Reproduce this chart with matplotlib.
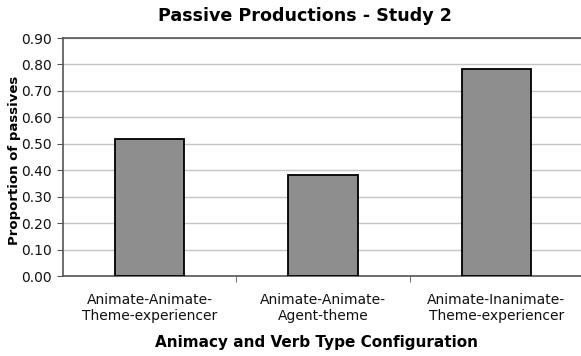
import numpy as np
import matplotlib.pyplot as plt
from matplotlib.ticker import FixedLocator, NullFormatter

# Passive productions by animacy / verb type
categories = ["Animate-Animate-\nTheme-experiencer",
              "Animate-Animate-\nAgent-theme",
              "Animate-Inanimate-\nTheme-experiencer"]
proportions = [0.518, 0.382, 0.783]
yticks = [0.0, 0.1, 0.2, 0.3, 0.4, 0.5, 0.6, 0.7, 0.8, 0.9]

plt.rcParams['font.family'] = ['DejaVu Sans']

fig = plt.figure(figsize=(5.81, 3.56), dpi=100)
ax = fig.add_axes([63 / 581, (356 - 276) / 356, (583 - 63) / 581, (276 - 38) / 356])

x = np.arange(len(categories))
ax.bar(x, proportions, width=0.4, color="#8e8e8e", edgecolor="black",
       linewidth=1.3, zorder=3)

ax.set_xlim(-0.5, len(categories) - 0.5)
ax.set_ylim(0, 0.9)
ax.set_yticks(yticks)
ax.set_yticklabels(["%.2f" % v for v in yticks], fontsize=10, color="#111111")
ax.yaxis.grid(True, color="#c4c4c4", linewidth=1, zorder=0)

ax.set_xticks(x)
ax.set_xticklabels(categories, fontsize=10, linespacing=1.25, color="#111111")
ax.tick_params(axis="x", length=0, pad=12)
ax.xaxis.set_minor_locator(FixedLocator([0.5, 1.5]))
ax.xaxis.set_minor_formatter(NullFormatter())
ax.tick_params(axis="x", which="minor", length=4, color="#555555")
ax.tick_params(axis="y", length=4, color="#555555", pad=4)

for side in ["left", "bottom", "top"]:
    ax.spines[side].set_color("#555555")
    ax.spines[side].set_linewidth(1.2)
ax.spines["right"].set_visible(False)

fig.text(15 / 581, 1 - 160 / 356, "Proportion of passives", rotation=90,
         fontsize=9.5, fontweight="bold", ha="center", va="center")
fig.text(316 / 581, 1 - 342 / 356, "Animacy and Verb Type Configuration",
         fontsize=11, fontweight="bold", ha="center", va="center")
fig.text(305 / 581, 1 - 16 / 356, "Passive Productions - Study 2",
         fontsize=12.6, fontweight="bold", ha="center", va="center")

fig.savefig("out.png", dpi=100)
